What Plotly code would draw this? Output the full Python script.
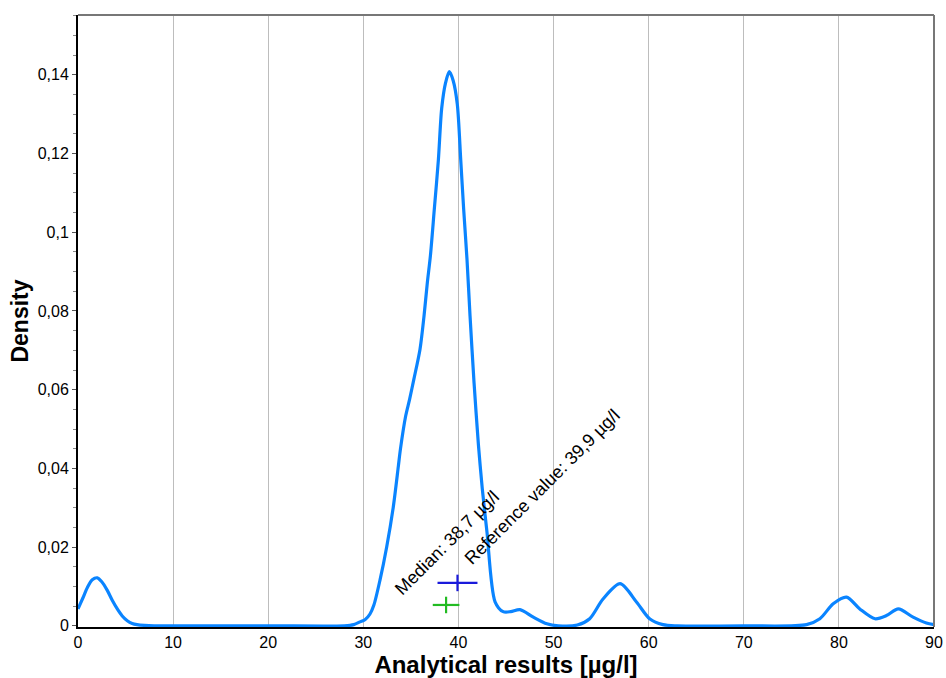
import plotly.graph_objects as go

# Density curve points
x_vals = [0, 0.5, 1.0, 1.5, 2.03, 2.5, 3.08, 3.6, 4.13, 4.65, 5.18, 5.7, 6.2, 7.0, 8.0, 10, 20, 28,
          29.0, 29.65, 30.2, 30.7, 31.1, 31.75, 32.46, 33.15, 33.68, 33.9, 34.45, 34.87, 35.3, 35.96,
          36.38, 36.73, 37.05, 37.46, 37.89, 38.24, 38.65, 39.04, 39.45, 39.88, 40.24, 40.55, 40.9,
          41.22, 41.64, 42.1, 42.5, 43.0, 43.85, 44.7, 45.5, 46.47, 47.87, 49.3, 50.5, 52.5, 53.8,
          55.2, 57.0, 58.74, 60.1, 61.5, 63, 70, 76.6, 78.0, 79.4, 80.8, 82.2, 83.8, 85.0, 86.25,
          87.8, 89.2, 90]
density = [0.0043, 0.007, 0.0098, 0.0117, 0.0122, 0.0112, 0.009, 0.0065, 0.0043, 0.0025, 0.0013,
           0.0006, 0.0003, 0.0001, 0.0, 0.0, 0.0, 0.0,
           0.0003, 0.001, 0.0016, 0.003, 0.0052, 0.0116, 0.0201, 0.0302, 0.0405, 0.0449, 0.0533,
           0.0576, 0.0625, 0.0703, 0.0787, 0.0872, 0.0940, 0.1058, 0.1184, 0.1315, 0.138, 0.1408,
           0.1385, 0.1325, 0.1184, 0.1058, 0.0931, 0.0787, 0.0618, 0.046, 0.035, 0.0238, 0.0061,
           0.0036, 0.0036, 0.0041, 0.0022, 0.0005, 0.0, 0.0002, 0.0018, 0.0068, 0.0107, 0.006,
           0.0018, 0.0003, 0.0, 0.0, 0.0003, 0.0018, 0.0056, 0.0073, 0.0043, 0.0018, 0.0026, 0.0043,
           0.0022, 0.0007, 0.0003]

# Reference value and median markers
ref_value, ref_y, ref_err = 39.9, 0.0109, 2.1
median_value, median_y, median_err = 38.7, 0.0053, 1.4

y_tick_vals = [0, 0.02, 0.04, 0.06, 0.08, 0.1, 0.12, 0.14]
y_tick_text = ["0", "0,02", "0,04", "0,06", "0,08", "0,1", "0,12", "0,14"]
x_tick_vals = [0, 10, 20, 30, 40, 50, 60, 70, 80, 90]

FONT = "Liberation Sans, Arial, sans-serif"

fig = go.Figure()
fig.add_trace(go.Scatter(
    x=x_vals, y=density, mode="lines",
    line=dict(color="#0a84ff", width=3.2, shape="spline", smoothing=0.8),
    showlegend=False, hoverinfo="skip"))

fig.add_trace(go.Scatter(
    x=[ref_value], y=[ref_y], mode="markers",
    marker=dict(size=0.1, color="#1a1adb"),
    error_x=dict(type="constant", value=ref_err, color="#1a1adb", thickness=2.2, width=0),
    error_y=dict(type="constant", value=0.0021, color="#1a1adb", thickness=2.2, width=0),
    showlegend=False, hoverinfo="skip"))

fig.add_trace(go.Scatter(
    x=[median_value], y=[median_y], mode="markers",
    marker=dict(size=0.1, color="#22bb22"),
    error_x=dict(type="constant", value=median_err, color="#22bb22", thickness=2.2, width=0),
    error_y=dict(type="constant", value=0.0021, color="#22bb22", thickness=2.2, width=0),
    showlegend=False, hoverinfo="skip"))

fig.add_annotation(x=38.8, y=0.0210, text="Median: 38,7 µg/l", showarrow=False,
                   textangle=-45, xanchor="center", yanchor="middle",
                   font=dict(family=FONT, size=18, color="black"))
fig.add_annotation(x=48.8, y=0.0353, text="Reference value: 39,9 µg/l", showarrow=False,
                   textangle=-45, xanchor="center", yanchor="middle",
                   font=dict(family=FONT, size=18, color="black"))

# top and right frame lines
fig.add_shape(type="line", xref="paper", yref="paper", x0=0, x1=1, y0=1, y1=1,
              line=dict(color="#777777", width=2))
fig.add_shape(type="line", xref="paper", yref="paper", x0=1, x1=1, y0=0, y1=1,
              line=dict(color="#777777", width=2))

fig.update_layout(
    width=946, height=678,
    margin=dict(l=78, r=12, t=15, b=51),
    paper_bgcolor="white", plot_bgcolor="white",
    font=dict(family=FONT, size=16, color="black"),
    separators=", ",
    xaxis=dict(
        range=[0, 90], tickvals=x_tick_vals, showgrid=True,
        gridcolor="#bdbdbd", gridwidth=1,
        showline=True, linecolor="black", linewidth=2,
        ticks="", zeroline=False, automargin=False,
        title=dict(text="<b>Analytical results [µg/l]</b>", font=dict(size=24), standoff=0),
        tickfont=dict(size=16),
    ),
    yaxis=dict(
        range=[-0.0003, 0.1552], tickvals=y_tick_vals, ticktext=y_tick_text,
        showgrid=False, zeroline=False, automargin=False,
        showline=True, linecolor="black", linewidth=2,
        ticks="outside", ticklen=4, tickcolor="#555555",
        minor=dict(dtick=0.005, tick0=0, ticks="outside", ticklen=3, tickcolor="#888888", showgrid=False),
        title=dict(text="<b>Density</b>", font=dict(size=23), standoff=3),
        tickfont=dict(size=16),
    ),
)

fig.write_html("out.html")
